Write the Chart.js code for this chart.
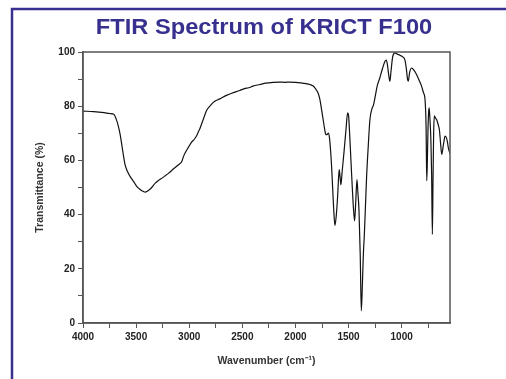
<!DOCTYPE html>
<html>
<head>
<meta charset="utf-8">
<script src="https://cdn.jsdelivr.net/npm/chart.js@4/dist/chart.umd.min.js"></script>
<style>
html,body{margin:0;padding:0;background:#fff;}
canvas{display:block;}
</style>
</head>
<body>
<canvas id="c" width="506" height="379"></canvas>
<script>
const TITLE = "FTIR Spectrum of KRICT F100";
const X_TITLE = "Wavenumber (cm\u207B\u00B9)";
const Y_TITLE = "Transmittance (%)";

const WAVENUMBER = [
4000,3900,3800,3750,3710,3690,3670,3650,3635,3620,3604,3580,3557,3520,3494,3460,3430,3416,3395,3375,
3353,3320,3290,3274,3230,3196,3150,3101,3070,3055,3039,3005,2976,2950,2929,2913,2900,2882,2860,2837,
2800,2760,2712,2650,2600,2524,2480,2440,2400,2335,2280,2210,2150,2100,2050,2000,1950,1900,1864,1840,
1817,1800,1786,1770,1755,1739,1725,1713,1700,1691,1680,1670,1660,1650,1640,1628,1615,1603,1595,1588,
1580,1572,1560,1541,1525,1509,1500,1490,1478,1465,1455,1443,1432,1421,1412,1402,1390,1380,1370,1360,
1352,1340,1330,1315,1299,1280,1265,1252,1230,1205,1180,1158,1145,1135,1120,1111,1100,1085,1064,1040,
1016,990,969,955,945,938,925,906,880,859,835,812,795,780,770,764,758,752,745,741,
735,725,718,711,705,699,692,686,680,670,655,645,633,623,610,600,592,580,570,560,
551,545
];
const TRANSMITTANCE = [
78.2,78.0,77.6,77.3,77.0,75.5,73.0,69.5,65.8,62.0,58.4,55.8,54.1,52.0,50.4,49.2,48.5,48.3,48.6,49.2,
50.0,51.6,52.6,53.0,54.2,55.2,56.8,58.4,59.6,61.3,62.7,65.0,66.8,67.9,69.2,70.6,71.7,73.6,76.0,78.4,
80.3,81.8,82.7,84.0,84.8,85.8,86.5,86.8,87.4,88.0,88.5,88.8,88.9,88.8,88.9,88.8,88.6,88.3,88.0,87.6,
86.8,85.8,84.8,82.5,79.0,75.0,71.5,69.5,69.6,70.1,68.5,64.0,58.0,50.0,42.0,36.0,40.0,46.7,53.0,56.6,
54.0,51.0,56.0,63.9,71.0,77.5,76.5,70.0,60.3,50.0,43.0,37.7,45.0,52.9,48.0,41.8,25.0,4.5,14.0,26.0,
32.0,44.0,54.1,65.0,75.0,79.0,80.5,83.0,87.5,90.5,94.0,96.5,97.0,95.5,91.0,89.2,93.0,98.2,99.7,99.2,
98.8,98.2,97.0,93.5,90.0,89.2,92.5,94.1,93.0,91.6,89.5,87.3,85.0,82.4,72.0,52.5,60.0,72.0,78.5,79.4,
76.0,67.6,55.0,32.7,52.0,70.0,76.4,76.0,75.5,75.0,73.0,71.3,66.0,62.2,65.0,67.5,69.0,68.5,67.0,64.5,
63.3,62.5
];

const X_TICKS = [4000,3750,3500,3250,3000,2750,2500,2250,2000,1750,1500,1250,1000,750];
const X_LABELED = [4000,3500,3000,2500,2000,1500,1000];
const Y_TICKS = [0,10,20,30,40,50,60,70,80,90,100];
const Y_LABELED = [0,20,40,60,80,100];

const BLUE = '#37308f';
const AXIS = '#555555';
const TICKFONT = {family:'"Liberation Sans", Arial, sans-serif', size:10, weight:'bold'};
const TITLEFONT = {family:'"Liberation Sans", Arial, sans-serif', size:10.5, weight:'bold'};

const decor = {
  id:'decor',
  beforeDraw(chart){
    const ctx = chart.ctx;
    ctx.save();
    ctx.fillStyle = '#fff';
    ctx.fillRect(0,0,chart.width,chart.height);
    ctx.strokeStyle = BLUE;
    ctx.lineWidth = 2.5;
    ctx.beginPath();
    ctx.moveTo(12, chart.height+5);
    ctx.lineTo(12, 9);
    ctx.lineTo(chart.width+5, 9);
    ctx.stroke();
    ctx.translate(264, 28);
    ctx.scale(1.1, 1);
    ctx.fillStyle = BLUE;
    ctx.font = 'bold 21.5px "Liberation Sans", Arial, sans-serif';
    ctx.textAlign = 'center';
    ctx.textBaseline = 'middle';
    ctx.fillText(TITLE, 0, 0);
    ctx.restore();
  },
  afterDraw(chart){
    const a = chart.chartArea, ctx = chart.ctx;
    ctx.save();
    ctx.strokeStyle = AXIS;
    ctx.lineWidth = 1.5;
    ctx.strokeRect(a.left, a.top, a.right - a.left, a.bottom - a.top);
    ctx.restore();
  }
};

new Chart(document.getElementById('c'), {
  type:'line',
  data:{
    datasets:[{
      data: WAVENUMBER.map((w,i)=>({x:w, y:TRANSMITTANCE[i]})),
      borderColor:'#111',
      borderWidth:1.2,
      pointRadius:0,
      fill:false,
      cubicInterpolationMode:'monotone'
    }]
  },
  plugins:[decor],
  options:{
    responsive:false,
    animation:false,
    layout:{padding:{top:52, right:56, bottom:0, left:0}},
    plugins:{legend:{display:false}, tooltip:{enabled:false}, title:{display:false}},
    scales:{
      x:{
        type:'linear', reverse:true, min:545, max:4000,
        afterBuildTicks(s){ s.ticks = X_TICKS.map(v=>({value:v})); },
        afterFit(s){ s.height = 56; },
        ticks:{
          autoSkip:false, maxRotation:0, padding:3, color:'#222', font:TICKFONT,
          callback(v){ return X_LABELED.includes(v) ? String(v) : ''; }
        },
        grid:{drawOnChartArea:false, drawTicks:true, tickLength:5, color:AXIS, lineWidth:1},
        border:{display:true, color:AXIS, width:1.5},
        title:{display:true, text:X_TITLE, color:'#333', font:TITLEFONT, padding:{top:0,bottom:12}}
      },
      y:{
        type:'linear', min:0, max:100,
        afterBuildTicks(s){ s.ticks = Y_TICKS.map(v=>({value:v})); },
        afterFit(s){ s.width = 83; },
        ticks:{
          autoSkip:false, padding:3, color:'#222', font:TICKFONT,
          callback(v){ return Y_LABELED.includes(v) ? String(v) : ''; }
        },
        grid:{drawOnChartArea:false, drawTicks:true, tickLength:5, color:AXIS, lineWidth:1},
        border:{display:true, color:AXIS, width:1.5},
        title:{display:true, text:Y_TITLE, color:'#333', font:TITLEFONT, padding:{top:34,bottom:0}}
      }
    }
  }
});
</script>
</body>
</html>
